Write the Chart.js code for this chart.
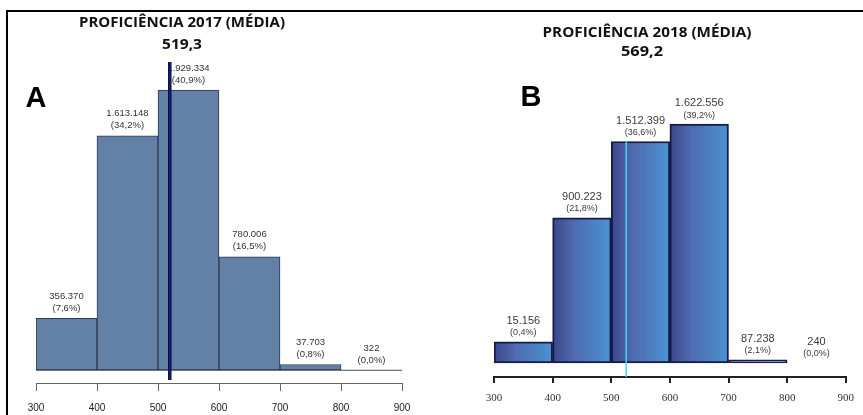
<!DOCTYPE html>
<html>
<head>
<meta charset="utf-8">
<script src="https://cdn.jsdelivr.net/npm/chart.js@4"></script>
<style>
  body { margin: 0; background: #fff; width: 863px; height: 415px; overflow: hidden; position: relative; }
  .painel { position: absolute; top: 0; height: 415px; }
  #painelA { left: 0; width: 430px; }
  #painelB { left: 430px; width: 433px; }
  .moldura { position: absolute; left: 6px; top: 10px; width: 857px; height: 405px;
             border-top: 2px solid #000; border-left: 2px solid #000; box-sizing: border-box; }
  .txt { position: absolute; white-space: nowrap; color: #111; line-height: 1; }
  .titulo { font-family: 'Open Sans', sans-serif; font-weight: 700; font-size: 14px; }
  .media { font-family: 'Open Sans', sans-serif; font-weight: 700; font-size: 15px; }
  .letra { font-family: 'Liberation Sans', Arial, sans-serif; font-weight: 700; font-size: 29px; color: #000; }
</style>
</head>
<body>
<div class="moldura"></div>
<div class="painel" id="painelA"><canvas id="graficoA" width="430" height="415"></canvas></div>
<div class="painel" id="painelB"><canvas id="graficoB" width="433" height="415"></canvas></div>

<div class="txt titulo" id="tituloA">PROFICIÊNCIA 2017 (MÉDIA)</div>
<div class="txt media" id="mediaA">519,3</div>
<div class="txt letra" id="letraA">A</div>
<div class="txt titulo" id="tituloB">PROFICIÊNCIA 2018 (MÉDIA)</div>
<div class="txt media" id="mediaB">569,2</div>
<div class="txt letra" id="letraB">B</div>

<script>
// faixas de proficiência (limites e centros)
const limites = [300, 400, 500, 600, 700, 800, 900];
const centros = [350, 450, 550, 650, 750, 850];

// 2017
const alunos2017 = [356370, 1613148, 1929334, 780006, 37703, 322];
const pct2017    = ['7,6%', '34,2%', '40,9%', '16,5%', '0,8%', '0,0%'];
const media2017  = 519.3;

// 2018
const alunos2018 = [15156, 900223, 1512399, 1622556, 87238, 240];
const pct2018    = ['0,4%', '21,8%', '36,6%', '39,2%', '2,1%', '0,0%'];
// na figura de 2018 as barras nao estao em escala com as contagens:
// alturas (mesma unidade das contagens)
const altura2018 = [143000, 985000, 1504000, 1622000, 22000, null];
const linhaMedia2018 = 525.5; // posicao onde a linha foi desenhada

const fmt = n => String(n).replace(/\B(?=(\d{3})+(?!\d))/g, '.');

// textos em html, esticados para a largura do original
function posicionar(id, cx, cy, largura) {
  const el = document.getElementById(id);
  el.style.left = cx + 'px';
  el.style.top = cy + 'px';
  let k = 1;
  if (largura) k = largura / el.getBoundingClientRect().width;
  el.style.transform = `translate(-50%, -50%) scaleX(${k})`;
}
posicionar('tituloA', 182, 22, 206);
posicionar('mediaA', 182, 43, 40);
posicionar('letraA', 36, 97);
posicionar('tituloB', 647, 32, 209);
posicionar('mediaB', 642, 50, 42);
posicionar('letraB', 531, 96);

function rotulos(opts) {
  return {
    id: 'rotulos',
    beforeDatasetsDraw(chart) {
      if (!opts.linhaBase) return;
      const { ctx, scales: { x, y } } = chart;
      ctx.save();
      ctx.strokeStyle = '#777';
      ctx.lineWidth = 1;
      ctx.beginPath();
      ctx.moveTo(x.getPixelForValue(300), Math.round(y.getPixelForValue(0)) + 0.5);
      ctx.lineTo(x.getPixelForValue(900), Math.round(y.getPixelForValue(0)) + 0.5);
      ctx.stroke();
      ctx.restore();
    },
    afterDatasetsDraw(chart) {
      const { ctx, chartArea, scales: { x, y } } = chart;
      ctx.save();
      ctx.textAlign = 'center';
      ctx.textBaseline = 'middle';
      opts.valores.forEach((v, i) => {
        const h = opts.alturas[i] || 0;
        const topo = y.getPixelForValue(h);
        const cx = x.getPixelForValue(centros[i]);
        ctx.fillStyle = opts.corTexto;
        ctx.font = opts.fonte1;
        ctx.fillText(fmt(v), cx, topo - opts.off1);
        ctx.font = opts.fonte2;
        ctx.fillText('(' + opts.pct[i] + ')', cx, topo - opts.off2);
      });
      // linha da média
      const mx = x.getPixelForValue(opts.media);
      const y0 = opts.mediaTopo != null ? y.getPixelForValue(opts.mediaTopo) : chartArea.top + 2;
      const y1 = chartArea.bottom - opts.mediaFim;
      if (opts.contorno) {
        ctx.strokeStyle = opts.contorno;
        ctx.lineWidth = opts.larguraMedia + 1.5;
        ctx.beginPath(); ctx.moveTo(mx, y0); ctx.lineTo(mx, y1); ctx.stroke();
      }
      ctx.strokeStyle = opts.corMedia;
      ctx.lineWidth = opts.larguraMedia;
      ctx.beginPath(); ctx.moveTo(mx, y0); ctx.lineTo(mx, y1); ctx.stroke();
      ctx.restore();
    }
  };
}

function eixoX(cor, largura, tick, pad, fonte, corTick) {
  return {
    type: 'linear', min: 300, max: 900, offset: false,
    afterFit: s => { s.height = s.chart.canvas.height - s.chart.options.layout.padding.top - (s.chart.options.plotH); },
    ticks: { stepSize: 100, color: corTick, font: fonte, padding: pad, maxRotation: 0, autoSkip: false,
             callback: v => String(v) },
    grid: { display: true, drawOnChartArea: false, drawTicks: true, tickLength: tick, color: cor, lineWidth: largura, offset: false },
    border: { display: true, color: cor, width: largura }
  };
}

// Painel A — 2017
const ctxA = document.getElementById('graficoA');
const pxA = 6890; // alunos por pixel no original
new Chart(ctxA, {
  type: 'bar',
  data: {
    datasets: [{
      data: centros.map((c, i) => ({ x: c, y: alunos2017[i] })),
      backgroundColor: '#6380a7',
      borderColor: '#2c3a4e',
      borderWidth: 1,
      borderSkipped: false,
      barPercentage: 1,
      categoryPercentage: 1
    }]
  },
  options: {
    responsive: false,
    animation: false,
    plotH: 323,
    layout: { padding: { left: 36, right: 28, top: 60, bottom: 0 } },
    plugins: { legend: { display: false }, tooltip: { enabled: false } },
    scales: {
      x: eixoX('#666', 1, 8, 11, { family: 'Liberation Sans', size: 10 }, '#222'),
      y: { display: false, min: -13 * pxA, max: 310 * pxA }
    }
  },
  plugins: [rotulos({
    valores: alunos2017, alturas: alunos2017, pct: pct2017,
    fonte1: '9.5px "Liberation Sans", Arial', fonte2: '9.5px "Liberation Sans", Arial',
    corTexto: '#333', off1: 22, off2: 10, linhaBase: true,
    media: media2017, mediaTopo: null, mediaFim: 3,
    corMedia: '#10207a', contorno: '#0a0a30', larguraMedia: 2
  })]
});

// Painel B — 2018
const ctxB = document.getElementById('graficoB');
const pxB = 6790;
new Chart(ctxB, {
  type: 'bar',
  data: {
    datasets: [{
      data: centros.map((c, i) => ({ x: c, y: altura2018[i] })),
      backgroundColor: (c) => {
        const ch = c.chart;
        if (!ch.chartArea || c.dataIndex == null) return '#4a6fb0';
        const xs = ch.scales.x;
        const x0 = xs.getPixelForValue(limites[c.dataIndex]);
        const x1 = xs.getPixelForValue(limites[c.dataIndex + 1]);
        const g = ch.ctx.createLinearGradient(x0, 0, x1, 0);
        g.addColorStop(0, '#3d4689');
        g.addColorStop(0.35, '#4f69b0');
        g.addColorStop(1, '#4a94d2');
        return g;
      },
      borderColor: '#161c4a',
      borderWidth: 2,
      borderSkipped: false,
      barPercentage: 1,
      categoryPercentage: 1
    }]
  },
  options: {
    responsive: false,
    animation: false,
    plotH: 317,
    layout: { padding: { left: 64, right: 10, top: 60, bottom: 0 } },
    plugins: { legend: { display: false }, tooltip: { enabled: false } },
    scales: {
      x: eixoX('#222', 2, 6, 9, { family: 'Liberation Sans Narrow', size: 11 }, '#333'),
      y: { display: false, min: -14 * pxB, max: 303 * pxB }
    }
  },
  plugins: [rotulos({
    valores: alunos2018, alturas: altura2018, pct: pct2018,
    fonte1: '11px "Liberation Sans Narrow", "Liberation Sans"', fonte2: '9px "Liberation Sans Narrow", "Liberation Sans"',
    corTexto: '#3a3a3a', off1: 21, off2: 9, linhaBase: false,
    media: linhaMedia2018, mediaTopo: altura2018[2], mediaFim: 0,
    corMedia: '#3fd8f4', contorno: null, larguraMedia: 1.5
  })]
});
</script>
</body>
</html>
